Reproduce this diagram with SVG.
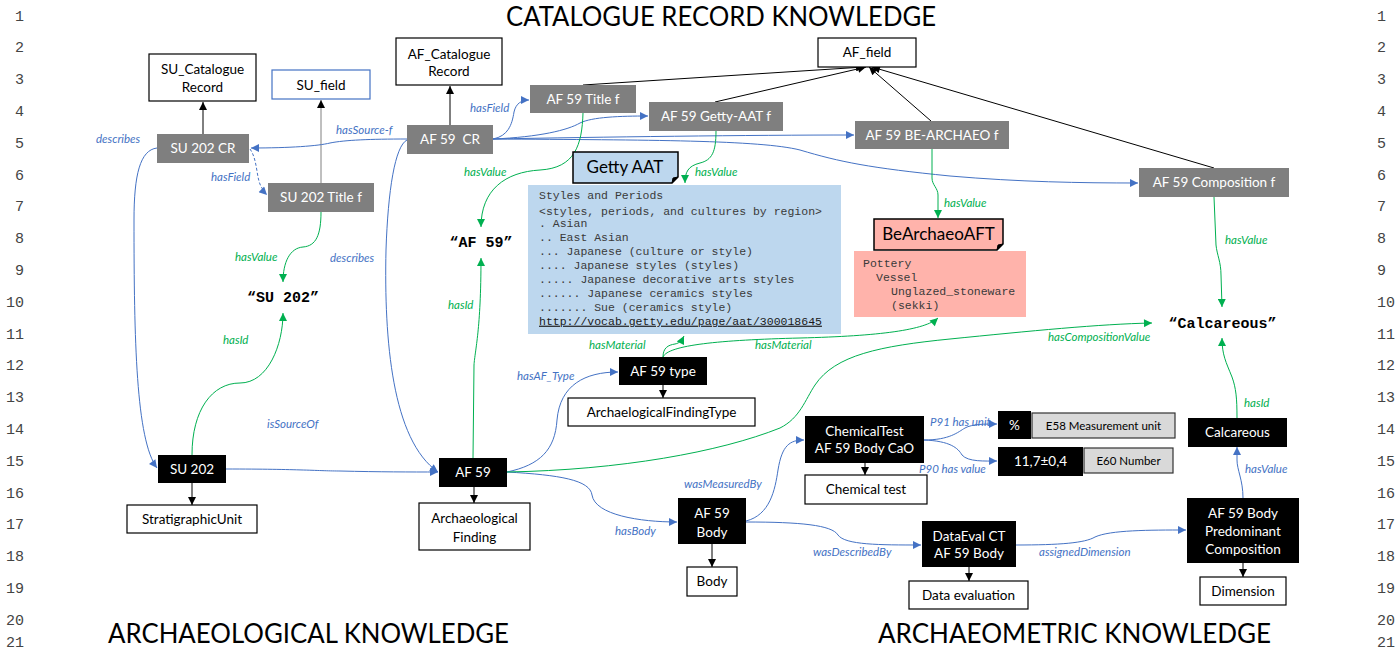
<svg xmlns="http://www.w3.org/2000/svg" width="1399" height="652" viewBox="0 0 1399 652">
  <style>
    .ln { font-family: "Liberation Mono", monospace; font-size: 15px; fill: #444; }
    .title { font-family: "Lato", "Liberation Sans", sans-serif; font-size: 26px; fill: #000; }
    .t { font-family: "Lato", "Liberation Sans", sans-serif; font-size: 13.5px; text-anchor: middle; white-space: pre; }
    .tw { fill: #fff; }
    .tb { fill: #000; }
    .small { font-size: 11.5px; }
    .big { font-size: 17px; }
    .lbl { font-family: "Lato", "Liberation Sans", sans-serif; font-size: 11.5px; font-style: italic; }
    .lb { fill: #4472c4; }
    .lg { fill: #00b050; }
    .mono { font-family: "Liberation Mono", "Courier New", monospace; font-size: 11.5px; fill: #3a3a3a; white-space: pre; }
    .lit { font-family: "Liberation Mono", "Courier New", monospace; font-size: 15px; font-weight: bold; text-anchor: middle; white-space: pre; }
    .grey { fill: #7f7f7f; }
    .blk { fill: #000; }
    .cls { fill: #fff; stroke: #000; stroke-width: 1.2; }
    .lgt { fill: #d9d9d9; stroke: #333; stroke-width: 1.2; }
    .cb { fill: none; stroke: #4472c4; stroke-width: 1; marker-end: url(#ab); }
    .cg { fill: none; stroke: #00b050; stroke-width: 1; marker-end: url(#ag); }
    .ck { fill: none; stroke: #000; stroke-width: 1; marker-end: url(#ak); }
  </style>
  <defs>
    <marker id="ab" viewBox="0 0 10 10" refX="10" refY="5" markerWidth="9" markerHeight="8" orient="auto" markerUnits="userSpaceOnUse">
      <path d="M0,0 L10,5 L0,10 z" fill="#4472c4"/>
    </marker>
    <marker id="ag" viewBox="0 0 10 10" refX="10" refY="5" markerWidth="9" markerHeight="8" orient="auto" markerUnits="userSpaceOnUse">
      <path d="M0,0 L10,5 L0,10 z" fill="#00b050"/>
    </marker>
    <marker id="ak" viewBox="0 0 10 10" refX="10" refY="5" markerWidth="9" markerHeight="8" orient="auto" markerUnits="userSpaceOnUse">
      <path d="M0,0 L10,5 L0,10 z" fill="#000"/>
    </marker>
  </defs>

  <rect width="1399" height="652" fill="#fff"/>

  <!-- line numbers -->
  <g id="line-numbers">
    <g class="ln" text-anchor="end">
      <text x="24" y="20.5">1</text><text x="24" y="52.3">2</text><text x="24" y="84.1">3</text>
      <text x="24" y="115.9">4</text><text x="24" y="147.7">5</text><text x="24" y="179.5">6</text>
      <text x="24" y="211.3">7</text><text x="24" y="243.1">8</text><text x="24" y="274.9">9</text>
      <text x="24" y="306.7">10</text><text x="24" y="338.5">11</text><text x="24" y="370.3">12</text>
      <text x="24" y="402.1">13</text><text x="24" y="433.9">14</text><text x="24" y="465.7">15</text>
      <text x="24" y="497.5">16</text><text x="24" y="529.3">17</text><text x="24" y="561.1">18</text>
      <text x="24" y="592.9">19</text><text x="24" y="624.7">20</text><text x="24" y="647">21</text>
    </g>
    <g class="ln">
      <text x="1377" y="20.5">1</text><text x="1377" y="52.3">2</text><text x="1377" y="84.1">3</text>
      <text x="1377" y="115.9">4</text><text x="1377" y="147.7">5</text><text x="1377" y="179.5">6</text>
      <text x="1377" y="211.3">7</text><text x="1377" y="243.1">8</text><text x="1377" y="274.9">9</text>
      <text x="1377" y="306.7">10</text><text x="1377" y="338.5">11</text><text x="1377" y="370.3">12</text>
      <text x="1377" y="402.1">13</text><text x="1377" y="433.9">14</text><text x="1377" y="465.7">15</text>
      <text x="1377" y="497.5">16</text><text x="1377" y="529.3">17</text><text x="1377" y="561.1">18</text>
      <text x="1377" y="592.9">19</text><text x="1377" y="624.7">20</text><text x="1377" y="647">21</text>
    </g>
  </g>

  <!-- section titles -->
  <g id="titles" class="title">
    <text x="506" y="26" textLength="430" lengthAdjust="spacingAndGlyphs">CATALOGUE RECORD KNOWLEDGE</text>
    <text x="108" y="643" textLength="401" lengthAdjust="spacingAndGlyphs">ARCHAEOLOGICAL KNOWLEDGE</text>
    <text x="878" y="643" textLength="393" lengthAdjust="spacingAndGlyphs">ARCHAEOMETRIC KNOWLEDGE</text>
  </g>

  <!-- connectors -->
  <g id="connectors">
    <!-- instance-of links -->
    <path class="ck" d="M203,134 L203,102"/>
    <path class="ck" d="M321,183 L321,100" style="stroke:#808080"/>
    <path class="ck" d="M450,125 L450,86"/>
    <path class="ck" d="M583,85 L864,67"/>
    <path class="ck" d="M715,102 L866,67"/>
    <path class="ck" d="M931,121 L869,67"/>
    <path class="ck" d="M1214,168 L872,67"/>
    <path class="ck" d="M192,483 L192,505"/>
    <path class="ck" d="M474,487 L474,503"/>
    <path class="ck" d="M663,385 L663,398"/>
    <path class="ck" d="M865,463 L865,475"/>
    <path class="ck" d="M712,544 L712,567"/>
    <path class="ck" d="M969,567 L969,581"/>
    <path class="ck" d="M1243,563 L1243,577"/>

    <!-- object properties -->
    <path class="cb" d="M157,148 C140,150 134,175 134,220 C134,340 136,440 157,468"/>
    <path class="cb" d="M250,149 C258,160 256,180 262,188 C264,192 266,194 267,195" stroke-dasharray="3,2"/>
    <path class="cb" d="M407,139 C370,139 345,140 330,143 C318,146 290,148 251,148"/>
    <path class="cb" d="M407,140 C395,146 388,190 386,250 C384,340 392,440 438,472"/>
    <path class="cb" d="M226,469 C300,469 320,471 340,471 C380,472 410,472 438,472"/>
    <path class="cb" d="M493,139 C508,136 512,125 514,112 C516,103 522,100 529,100"/>
    <path class="cb" d="M493,139 C540,137 568,130 580,123 C592,117 620,116 648,116"/>
    <path class="cb" d="M493,139 C600,137 750,135 854,135"/>
    <path class="cb" d="M493,139 C650,140 760,140 800,150 C840,162 870,168 950,176 C1020,182 1080,183 1138,183"/>
    <path class="cb" d="M507,472 C540,465 555,450 557,420 C560,385 585,372 618,372"/>
    <path class="cb" d="M507,472 C560,475 590,480 592,495 C595,515 640,522 677,522"/>
    <path class="cb" d="M746,521 C770,515 775,490 778,470 C782,445 790,440 804,440"/>
    <path class="cb" d="M746,522 C800,522 832,525 838,535 C845,545 880,545 921,545"/>
    <path class="cb" d="M924,440 C950,440 958,432 965,428 C972,424 985,424 997,424"/>
    <path class="cb" d="M924,440 C950,441 958,448 962,455 C968,462 985,461 997,461"/>
    <path class="cb" d="M1016,545 C1060,545 1085,543 1095,537 C1110,530 1150,530 1186,530"/>
    <path class="cb" d="M1243,498 C1243,480 1237,470 1237,460 L1237,447"/>

    <!-- data / value links -->
    <path class="cg" d="M321,212 C321,235 316,246 303,247 C290,248 283,262 283,282"/>
    <path class="cg" d="M192,455 C192,410 212,383 240,383 C268,383 283,345 283,313"/>
    <path class="cg" d="M583,113 C582,145 575,168 540,170 C505,172 481,190 481,227"/>
    <path class="cg" d="M473,458 L474,365 C475,350 481,330 481,258"/>
    <path class="cg" d="M716,131 C716,152 712,160 700,163 C688,166 685,172 685,183"/>
    <path class="cg" d="M932,149 L932,178 C932,185 938,188 938,195 L938,218"/>
    <path class="cg" d="M1214,197 L1216,245 C1217,255 1221,262 1221,275 L1222,307"/>
    <path class="cg" d="M663,357 C663,348 668,345 675,344 C680,343 682,340 684,336"/>
    <path class="cg" d="M663,357 C668,345 720,340 800,338 C880,336 925,330 938,318"/>
    <path class="cg" d="M507,472 C620,470 720,452 780,428 C800,418 805,400 815,385 C835,355 880,346 950,339 C1030,331 1100,324 1152,323"/>
    <path class="cg" d="M1237,418 C1237,398 1236,388 1232,377 C1226,362 1222,355 1222,338"/>

    <!-- link labels -->
    <g class="lbl lb">
      <text x="96" y="143">describes</text>
      <text x="211" y="181">hasField</text>
      <text x="336" y="134">hasSource-f</text>
      <text x="330" y="262">describes</text>
      <text x="267" y="428">isSourceOf</text>
      <text x="470" y="112">hasField</text>
      <text x="517" y="380">hasAF_Type</text>
      <text x="615" y="535">hasBody</text>
      <text x="684" y="488">wasMeasuredBy</text>
      <text x="813" y="556">wasDescribedBy</text>
      <text x="930" y="426">P91 has unit</text>
      <text x="919" y="473">P90 has value</text>
      <text x="1039" y="556">assignedDimension</text>
      <text x="1245" y="473">hasValue</text>
    </g>
    <g class="lbl lg">
      <text x="235" y="261">hasValue</text>
      <text x="223" y="344">hasId</text>
      <text x="464" y="176">hasValue</text>
      <text x="448" y="309">hasId</text>
      <text x="695" y="176">hasValue</text>
      <text x="944" y="207">hasValue</text>
      <text x="1225" y="244">hasValue</text>
      <text x="589" y="349">hasMaterial</text>
      <text x="755" y="349">hasMaterial</text>
      <text x="1048" y="341">hasCompositionValue</text>
      <text x="1244" y="407">hasId</text>
    </g>
  </g>

  <!-- catalogue record classes -->
  <g id="su-catalogue-record">
    <rect class="cls" x="149" y="54" width="107" height="47"/>
    <text class="t tb" x="202.5" y="74">SU_Catalogue</text>
    <text class="t tb" x="202.5" y="92">Record</text>
  </g>
  <g id="su-field">
    <rect x="272" y="70" width="98" height="29" fill="#fff" stroke="#4472c4" stroke-width="1.2"/>
    <text class="t tb" x="321" y="90">SU_field</text>
  </g>
  <g id="af-catalogue-record">
    <rect class="cls" x="396" y="38" width="106" height="47"/>
    <text class="t tb" x="449" y="59">AF_Catalogue</text>
    <text class="t tb" x="449" y="76">Record</text>
  </g>
  <g id="af-field">
    <rect class="cls" x="818" y="38" width="98" height="29"/>
    <text class="t tb" x="867" y="57">AF_field</text>
  </g>

  <!-- catalogue record instances -->
  <g id="su202-cr">
    <rect class="grey" x="157" y="134" width="92" height="29"/>
    <text class="t tw" x="203" y="153">SU 202 CR</text>
  </g>
  <g id="su202-title-f">
    <rect class="grey" x="268" y="183" width="106" height="29"/>
    <text class="t tw" x="321" y="202">SU 202 Title f</text>
  </g>
  <g id="af59-cr">
    <rect class="grey" x="407" y="125" width="86" height="29"/>
    <text class="t tw" x="450" y="144">AF 59  CR</text>
  </g>
  <g id="af59-title-f">
    <rect class="grey" x="530" y="85" width="106" height="28"/>
    <text class="t tw" x="583" y="104">AF 59 Title f</text>
  </g>
  <g id="af59-getty-f">
    <rect class="grey" x="649" y="102" width="134" height="29"/>
    <text class="t tw" x="716" y="121">AF 59 Getty-AAT f</text>
  </g>
  <g id="af59-bearchaeo-f">
    <rect class="grey" x="855" y="121" width="154" height="28"/>
    <text class="t tw" x="932" y="140">AF 59 BE-ARCHAEO f</text>
  </g>
  <g id="af59-composition-f">
    <rect class="grey" x="1139" y="168" width="150" height="29"/>
    <text class="t tw" x="1214" y="187">AF 59 Composition f</text>
  </g>

  <!-- Getty AAT vocabulary -->
  <g id="getty-aat">
    <path d="M573,152 H678 V177 L672,183 H573 Z" fill="#bdd7ee" stroke="#000" stroke-width="1.5"/>
    <path d="M672,183 L678,177 L673,178 Z" fill="#000" stroke="#000" stroke-width="1"/>
    <text class="t tb big" x="625" y="173">Getty AAT</text>
    <rect x="528" y="185" width="313" height="149" fill="#bdd7ee"/>
    <text class="mono" x="539" y="199">Styles and Periods</text>
    <text class="mono" x="539" y="214.7">&lt;styles, periods, and cultures by region&gt;</text>
    <text class="mono" x="539" y="227.3">. Asian</text>
    <text class="mono" x="539" y="241.3">.. East Asian</text>
    <text class="mono" x="539" y="254.7">... Japanese (culture or style)</text>
    <text class="mono" x="539" y="268.7">.... Japanese styles (styles)</text>
    <text class="mono" x="539" y="283.3">..... Japanese decorative arts styles</text>
    <text class="mono" x="539" y="296.7">...... Japanese ceramics styles</text>
    <text class="mono" x="539" y="310.7">....... Sue (ceramics style)</text>
    <text class="mono" x="539" y="324.7" text-decoration="underline" style="fill:#1a1a1a">http://vocab.getty.edu/page/aat/300018645</text>
  </g>

  <!-- BeArchaeo vocabulary -->
  <g id="bearchaeo-aft">
    <path d="M874,219 H1003 V244 L997,250 H874 Z" fill="#ffb3ab" stroke="#000" stroke-width="1.5"/>
    <path d="M997,250 L1003,244 L998,245 Z" fill="#000" stroke="#000" stroke-width="1"/>
    <text class="t tb big" x="938.5" y="240">BeArchaeoAFT</text>
    <rect x="854" y="251" width="172" height="66" fill="#ffb3ab"/>
    <text class="mono" x="863" y="267">Pottery</text>
    <text class="mono" x="876" y="281">Vessel</text>
    <text class="mono" x="891" y="294.7">Unglazed_stoneware</text>
    <text class="mono" x="891" y="309">(sekki)</text>
  </g>

  <!-- literal values -->
  <g id="lit-af59"><text class="lit" x="481" y="247">“AF 59”</text></g>
  <g id="lit-su202"><text class="lit" x="283" y="302">“SU 202”</text></g>
  <g id="lit-calcareous"><text class="lit" x="1222.5" y="328">“Calcareous”</text></g>

  <!-- archaeological knowledge -->
  <g id="su202">
    <rect class="blk" x="158" y="455" width="68" height="28"/>
    <text class="t tw" x="192" y="474">SU 202</text>
  </g>
  <g id="stratigraphic-unit">
    <rect class="cls" x="127" y="505" width="130" height="28"/>
    <text class="t tb" x="192" y="524">StratigraphicUnit</text>
  </g>
  <g id="af59">
    <rect class="blk" x="439" y="458" width="68" height="29"/>
    <text class="t tw" x="473" y="477">AF 59</text>
  </g>
  <g id="archaeological-finding">
    <rect class="cls" x="419" y="503" width="111" height="47"/>
    <text class="t tb" x="474.5" y="523">Archaeological</text>
    <text class="t tb" x="474.5" y="541.5">Finding</text>
  </g>
  <g id="af59-type">
    <rect class="blk" x="619" y="357" width="88" height="28"/>
    <text class="t tw" x="663" y="376">AF 59 type</text>
  </g>
  <g id="af-type-class">
    <rect class="cls" x="568" y="398" width="187" height="28"/>
    <text class="t tb" x="661.5" y="417">ArchaelogicalFindingType</text>
  </g>
  <g id="af59-body">
    <rect class="blk" x="678" y="498" width="68" height="46"/>
    <text class="t tw" x="712" y="518">AF 59</text>
    <text class="t tw" x="712" y="537">Body</text>
  </g>
  <g id="body-class">
    <rect class="cls" x="687" y="567" width="50" height="29"/>
    <text class="t tb" x="712" y="586">Body</text>
  </g>

  <!-- archaeometric knowledge -->
  <g id="chemical-test-cao">
    <rect class="blk" x="805" y="416" width="119" height="47"/>
    <text class="t tw" x="864.5" y="436">ChemicalTest</text>
    <text class="t tw" x="864.5" y="453">AF 59 Body CaO</text>
  </g>
  <g id="chemical-test-class">
    <rect class="cls" x="805" y="475" width="122" height="29"/>
    <text class="t tb" x="866" y="494">Chemical test</text>
  </g>
  <g id="unit-percent">
    <rect class="blk" x="998" y="411" width="33" height="28"/>
    <text class="t tw" x="1014.5" y="430">%</text>
  </g>
  <g id="e58">
    <rect class="lgt" x="1032" y="413" width="143" height="25"/>
    <text class="t tb small" x="1103.5" y="429.5">E58 Measurement unit</text>
  </g>
  <g id="value-number">
    <rect class="blk" x="998" y="447" width="85" height="29"/>
    <text class="t tw" x="1040.5" y="466">11,7±0,4</text>
  </g>
  <g id="e60">
    <rect class="lgt" x="1084" y="448" width="89" height="25"/>
    <text class="t tb small" x="1128.5" y="464.5">E60 Number</text>
  </g>
  <g id="data-eval">
    <rect class="blk" x="922" y="521" width="94" height="46"/>
    <text class="t tw" x="969" y="540.7">DataEval CT</text>
    <text class="t tw" x="969" y="558.3">AF 59 Body</text>
  </g>
  <g id="data-evaluation-class">
    <rect class="cls" x="909" y="581" width="119" height="28"/>
    <text class="t tb" x="968.5" y="600">Data evaluation</text>
  </g>
  <g id="calcareous">
    <rect class="blk" x="1188" y="418" width="99" height="29"/>
    <text class="t tw" x="1237.5" y="437">Calcareous</text>
  </g>
  <g id="predominant-composition">
    <rect class="blk" x="1187" y="498" width="112" height="65"/>
    <text class="t tw" x="1243" y="518">AF 59 Body</text>
    <text class="t tw" x="1243" y="536">Predominant</text>
    <text class="t tw" x="1243" y="554">Composition</text>
  </g>
  <g id="dimension-class">
    <rect class="cls" x="1200" y="577" width="86" height="28"/>
    <text class="t tb" x="1243" y="596">Dimension</text>
  </g>
</svg>
